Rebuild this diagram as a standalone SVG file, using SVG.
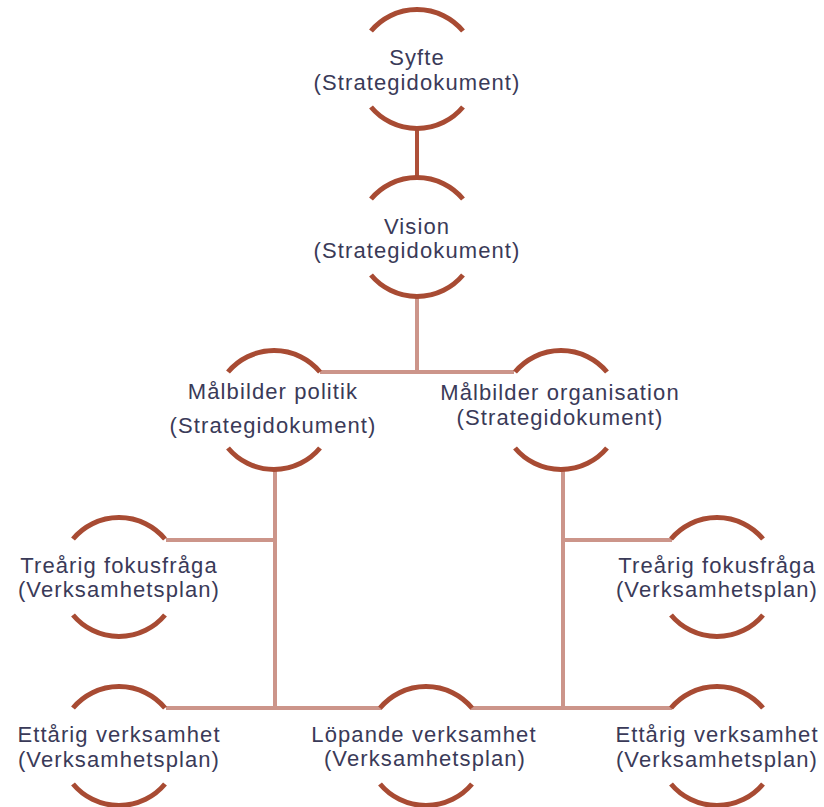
<svg xmlns="http://www.w3.org/2000/svg" xmlns:xlink="http://www.w3.org/1999/xlink" width="824" height="807" viewBox="0 0 824 807">
  <style>
    .arc { fill: none; stroke: #A84B33; stroke-width: 5; stroke-linecap: butt; }
    .conn { fill: none; stroke: #CC958A; stroke-width: 4; }
    .conn-dark { fill: none; stroke: #AE5039; stroke-width: 4; }
    .lbl { font-family: "Liberation Sans", Arial, sans-serif; font-size: 22px; letter-spacing: 1.1px; fill: #3A3A58; text-anchor: middle; }
  </style>
  <defs>
    <g id="bubble">
      <path class="arc" d="M-46,-38 A60,60 0 0 1 46,-38"/>
      <path class="arc" d="M-46,38 A60,60 0 0 0 46,38"/>
    </g>
  </defs>
  <rect width="824" height="807" fill="#FFFFFF"/>

  <g id="connectors">
    <line class="conn-dark" x1="417" y1="128" x2="417" y2="178"/>
    <line class="conn" x1="417" y1="296" x2="417" y2="374"/>
    <line class="conn" x1="320" y1="372" x2="514" y2="372"/>
    <line class="conn" x1="275" y1="470" x2="275" y2="710"/>
    <line class="conn" x1="166" y1="540" x2="277" y2="540"/>
    <line class="conn" x1="166" y1="708" x2="382" y2="708"/>
    <line class="conn" x1="563" y1="471" x2="563" y2="710"/>
    <line class="conn" x1="561" y1="540" x2="672" y2="540"/>
    <line class="conn" x1="470" y1="708" x2="672" y2="708"/>
  </g>

  <g id="syfte" transform="translate(417,69)">
    <use xlink:href="#bubble"/>
    <text class="lbl"><tspan x="0" y="-4">Syfte</tspan><tspan x="0" y="21">(Strategidokument)</tspan></text>
  </g>

  <g id="vision" transform="translate(417,237)">
    <use xlink:href="#bubble"/>
    <text class="lbl"><tspan x="0" y="-3">Vision</tspan><tspan x="0" y="21">(Strategidokument)</tspan></text>
  </g>

  <g id="malbilder-politik" transform="translate(274,410)">
    <use xlink:href="#bubble"/>
    <text class="lbl"><tspan x="-1" y="-11">Målbilder politik</tspan><tspan x="-1" y="23">(Strategidokument)</tspan></text>
  </g>

  <g id="malbilder-organisation" transform="translate(561,410)">
    <use xlink:href="#bubble"/>
    <text class="lbl"><tspan x="-1" y="-10">Målbilder organisation</tspan><tspan x="-1" y="15">(Strategidokument)</tspan></text>
  </g>

  <g id="trearig-vanster" transform="translate(119,577)">
    <use xlink:href="#bubble"/>
    <text class="lbl"><tspan x="0" y="-4">Treårig fokusfråga</tspan><tspan x="0" y="20">(Verksamhetsplan)</tspan></text>
  </g>

  <g id="trearig-hoger" transform="translate(717,577)">
    <use xlink:href="#bubble"/>
    <text class="lbl"><tspan x="0" y="-4">Treårig fokusfråga</tspan><tspan x="0" y="20">(Verksamhetsplan)</tspan></text>
  </g>

  <g id="ettarig-vanster" transform="translate(119,746)">
    <use xlink:href="#bubble"/>
    <text class="lbl"><tspan x="0" y="-4">Ettårig verksamhet</tspan><tspan x="0" y="21">(Verksamhetsplan)</tspan></text>
  </g>

  <g id="lopande" transform="translate(426,746)">
    <use xlink:href="#bubble"/>
    <text class="lbl"><tspan x="-2" y="-4">Löpande verksamhet</tspan><tspan x="-1" y="20">(Verksamhetsplan)</tspan></text>
  </g>

  <g id="ettarig-hoger" transform="translate(717,746)">
    <use xlink:href="#bubble"/>
    <text class="lbl"><tspan x="0" y="-4">Ettårig verksamhet</tspan><tspan x="0" y="21">(Verksamhetsplan)</tspan></text>
  </g>
</svg>
